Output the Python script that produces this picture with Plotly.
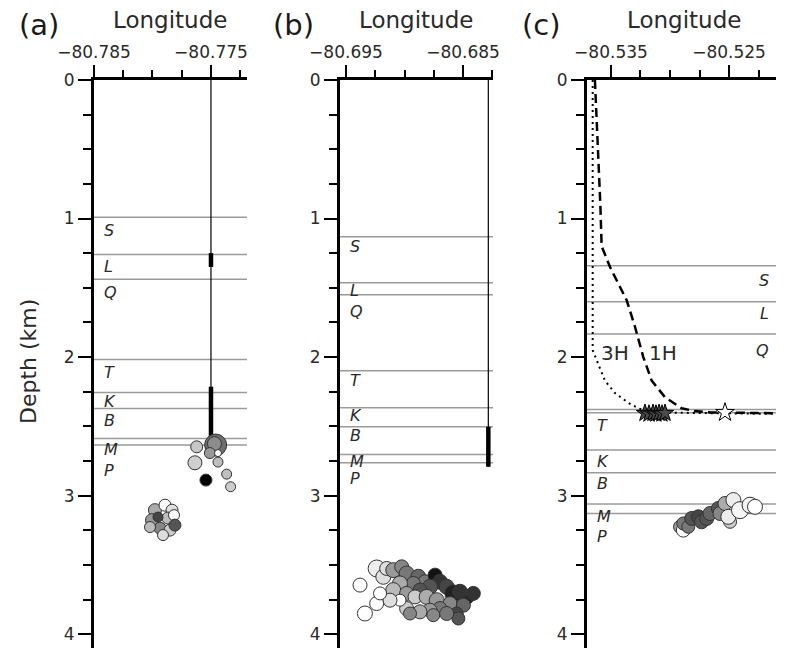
import plotly.graph_objects as go

# ---------------- data ----------------
FORMATIONS = ['S', 'L', 'Q', 'T', 'K', 'B', 'M', 'P']

# panel (a)
A_XRANGE = [-80.785, -80.77192]
A_XTICKS = [-80.785, -80.775]
A_TOPS = [0.991, 1.259, 1.439, 2.017, 2.255, 2.371, 2.587, 2.635]
A_LABEL_DEPTH = [1.083, 1.348, 1.536, 2.113, 2.318, 2.460, 2.667, 2.816]
A_WELL_LON = -80.775
A_WELL_DEPTH = [0.0, 2.62]
A_PERF = [(1.25, 1.35), (2.214, 2.60)]
A_EV_LON = [-80.77622, -80.77460, -80.77470, -80.77509, -80.77440, -80.77440, -80.77637,
            -80.77543, -80.77366, -80.77332,
            -80.77979, -80.77893, -80.77833, -80.78004, -80.77868, -80.77816,
            -80.77936, -80.77850, -80.77910, -80.78021, -80.77808, -80.77953]
A_EV_DEP = [2.648, 2.635, 2.625, 2.693, 2.693, 2.758, 2.763, 2.888, 2.845, 2.936,
            3.105, 3.069, 3.105, 3.177, 3.162, 3.141, 3.235, 3.249, 3.285, 3.227, 3.213, 3.155]
A_EV_TIME = [0.22, 0.57, 0.45, 0.40, 0.0, 0.26, 0.19, 1.0, 0.25, 0.20,
             0.33, 0.0, 0.13, 0.40, 0.26, 0.0, 0.47, 0.20, 0.13, 0.26, 0.67, 0.73]
A_EV_MAG = [1.2, 2.2, 1.4, 1.1, 0.7, 1.0, 1.4, 1.2, 1.0, 1.0,
            1.3, 1.2, 1.2, 1.3, 1.2, 1.1, 1.2, 1.2, 1.1, 1.1, 1.2, 1.0]

# panel (b)
B_XRANGE = [-80.69551, -80.68244]
B_XTICKS = [-80.695, -80.685]
B_TOPS = [1.131, 1.463, 1.550, 2.099, 2.366, 2.503, 2.703, 2.763]
B_LABEL_DEPTH = [1.203, 1.523, 1.673, 2.166, 2.424, 2.568, 2.756, 2.876]
B_WELL_LON = -80.68284
B_WELL_DEPTH = [0.0, 2.79]
B_PERF = [(2.503, 2.792)]
B_EV_LON = [-80.69238, -80.69181, -80.69152, -80.69096, -80.69024, -80.68982, -80.68882,
            -80.68825, -80.68739, -80.68697, -80.68640, -80.68583, -80.68469, -80.68526,
            -80.68782, -80.68925, -80.68868, -80.69039, -80.69096, -80.68982, -80.68910,
            -80.68811, -80.68725, -80.68611, -80.68497, -80.68554, -80.68540, -80.68697,
            -80.68782, -80.68868, -80.68982, -80.69039, -80.69124, -80.69238, -80.69380,
            -80.69209, -80.69338, -80.68953, -80.68754, -80.68640, -80.68412]
B_EV_DEP = [3.526, 3.586, 3.526, 3.538, 3.514, 3.562, 3.586, 3.622, 3.574, 3.622,
            3.658, 3.706, 3.731, 3.694, 3.658, 3.634, 3.682, 3.634, 3.682, 3.706,
            3.731, 3.731, 3.755, 3.779, 3.791, 3.851, 3.887, 3.815, 3.827, 3.839,
            3.815, 3.755, 3.755, 3.779, 3.646, 3.706, 3.851, 3.851, 3.863, 3.851, 3.706]
B_EV_TIME = [0.07, 0.13, 0.13, 0.40, 0.47, 0.53, 0.60, 0.53, 0.93, 0.80,
             0.73, 0.87, 0.87, 0.80, 0.67, 0.53, 0.67, 0.33, 0.27, 0.40,
             0.20, 0.33, 0.40, 0.47, 0.60, 0.73, 0.67, 0.53, 0.40, 0.33,
             0.20, 0.0, 0.13, 0.0, 0.0, 0.0, 0.0, 0.47, 0.47, 0.53, 0.80]
B_EV_MAG = [1.7, 1.5, 1.4, 1.5, 1.4, 1.5, 1.5, 1.4, 1.4, 1.5,
            1.5, 1.7, 1.5, 1.5, 1.5, 1.4, 1.4, 1.5, 1.5, 1.4,
            1.4, 1.5, 1.5, 1.4, 1.4, 1.3, 1.3, 1.4, 1.4, 1.4,
            1.4, 1.2, 1.4, 1.4, 1.4, 1.3, 1.5, 1.3, 1.3, 1.4, 1.4]

# panel (c)
C_XRANGE = [-80.53703, -80.52102]
C_XTICKS = [-80.535, -80.525]
C_TOPS = [1.341, 1.601, 1.834, 2.378, 2.402, 2.671, 2.835, 3.061, 3.129]
C_LABEL_DEPTH = [1.444, 1.685, 1.949, 2.491, 2.756, 2.912, 3.153, 3.292]
C_LABEL_RIGHT = [True, True, True, False, False, False, False, False]
W1H_LON = [-80.53636, -80.53620, -80.53605, -80.53590, -80.53579, -80.53508, -80.53367,
           -80.53297, -80.53226, -80.53155, -80.53042, -80.52901, -80.52788, -80.52650,
           -80.52102]
W1H_DEP = [0.0, 0.3, 0.6, 0.9, 1.20, 1.35, 1.59, 1.78, 2.00, 2.17, 2.29, 2.37, 2.39, 2.40, 2.405]
W3H_LON = [-80.53655, -80.53655, -80.53608, -80.53551, -80.53466, -80.53353, -80.53269,
           -80.53150, -80.52102]
W3H_DEP = [0.0, 1.95, 2.05, 2.17, 2.26, 2.33, 2.37, 2.40, 2.41]
WELL_NAMES = ['3H', '1H']
WELL_NAME_LON = [-80.53466, -80.53059]
WELL_NAME_DEP = [1.968, 1.968]
STAR_LON = [-80.53212, -80.53178, -80.53144, -80.53119, -80.53093, -80.53068, -80.53042]
STAR_DEP = [2.405, 2.41, 2.405, 2.41, 2.405, 2.41, 2.405]
STAR2_LON = [-80.52534]
STAR2_DEP = [2.40]
C_EV_LON = [-80.52915, -80.52887, -80.52887, -80.52845, -80.52816, -80.52760, -80.52732,
            -80.52689, -80.52661, -80.52590, -80.52576, -80.52534, -80.52491, -80.52506,
            -80.52463, -80.52407, -80.52322, -80.52280]
C_EV_DEP = [3.225, 3.249, 3.201, 3.225, 3.165, 3.153, 3.189, 3.165, 3.129, 3.093,
            3.129, 3.057, 3.189, 3.153, 3.032, 3.105, 3.069, 3.081]
C_EV_TIME = [0.40, 0.0, 0.53, 0.53, 0.67, 0.73, 0.67, 0.67, 0.60, 0.67,
             0.47, 0.33, 0.20, 0.07, 0.07, 0.04, 0.04, 0.0]
C_EV_MAG = [1.3, 1.4, 1.3, 1.3, 1.4, 1.4, 1.4, 1.4, 1.4, 1.4,
            1.4, 1.4, 1.3, 1.5, 1.5, 1.7, 1.6, 1.5]

# ---------------- style ----------------
W, H = 789, 649
FONT = 'DejaVu Sans'
TXT = '#2a2a2a'
SIZE_PER_MAG = 10
GRAYS = [[0, '#ffffff'], [1, '#000000']]

fig = go.Figure()

panels = [
    dict(tag='a', x='x', y='y', xr=A_XRANGE, xt=A_XTICKS, dom=[94, 247], tops=A_TOPS,
         ld=A_LABEL_DEPTH, right=[False] * 8, lon=A_EV_LON, dep=A_EV_DEP, t=A_EV_TIME, m=A_EV_MAG,
         tagx=39, titx=170),
    dict(tag='b', x='x2', y='y2', xr=B_XRANGE, xt=B_XTICKS, dom=[340, 493], tops=B_TOPS,
         ld=B_LABEL_DEPTH, right=[False] * 8, lon=B_EV_LON, dep=B_EV_DEP, t=B_EV_TIME, m=B_EV_MAG,
         tagx=293, titx=416),
    dict(tag='c', x='x3', y='y3', xr=C_XRANGE, xt=C_XTICKS, dom=[587, 776], tops=C_TOPS,
         ld=C_LABEL_DEPTH, right=C_LABEL_RIGHT, lon=C_EV_LON, dep=C_EV_DEP, t=C_EV_TIME, m=C_EV_MAG,
         tagx=541, titx=684),
]

shapes = []
annotations = []
for i, p in enumerate(panels):
    sfx = '' if i == 0 else str(i + 1)
    xa, ya = 'xaxis' + sfx, 'yaxis' + sfx
    fig.update_layout(**{
        xa: dict(domain=[p['dom'][0] / W, p['dom'][1] / W], range=p['xr'], side='top',
                 anchor=p['y'], automargin=False, showgrid=False, zeroline=False,
                 showline=True, linewidth=3,
                 linecolor='black', ticks='outside', ticklen=12, tickwidth=1.5, tickcolor='black',
                 tickmode='array', tickvals=p['xt'],
                 ticktext=['\u2212' + f'{abs(v):.3f}' for v in p['xt']],
                 tickfont=dict(family=FONT, size=17, color=TXT),
                 minor=dict(tick0=p['xt'][0], dtick=0.0025, ticks='outside', ticklen=7,
                            tickwidth=1.5, tickcolor='black', showgrid=False)),
        ya: dict(domain=[1 / H, 1 - 80 / H], range=[4.1, 0], anchor=p['x'], automargin=False,
                 showgrid=False,
                 zeroline=False, showline=True, linewidth=3, linecolor='black',
                 ticks='outside', ticklen=13, tickwidth=1.5, tickcolor='black',
                 tickmode='array', tickvals=[0, 1, 2, 3, 4],
                 tickfont=dict(family=FONT, size=17, color=TXT),
                 minor=dict(dtick=0.25, ticks='outside', ticklen=8, tickwidth=1.5,
                            tickcolor='black', showgrid=False)),
    })
    for d in p['tops']:
        shapes.append(dict(type='line', xref=p['x'] + ' domain', yref=p['y'], x0=0, x1=1,
                           y0=d, y1=d, line=dict(color='#9a9a9a', width=1.5), layer='below'))
    for name, d, r in zip(FORMATIONS, p['ld'], p['right']):
        annotations.append(dict(text='<i>' + name + '</i>', xref=p['x'] + ' domain', yref=p['y'],
                                x=1 if r else 0, xshift=-5 if r else 8, y=d,
                                xanchor='right' if r else 'left', yanchor='middle',
                                showarrow=False, font=dict(family=FONT, size=16, color=TXT)))
    annotations.append(dict(text='Longitude', xref='paper', yref='paper',
                            x=p['titx'] / W, y=1 - 20 / H, xanchor='center', yanchor='middle',
                            showarrow=False, font=dict(family=FONT, size=23, color=TXT)))
    annotations.append(dict(text='(' + p['tag'] + ')', xref='paper', yref='paper',
                            x=p['tagx'] / W, y=1 - 25 / H, xanchor='center',
                            yanchor='middle', showarrow=False,
                            font=dict(family=FONT, size=29, color='#1a1a1a')))

annotations.append(dict(text='Depth (km)', xref='paper', yref='paper', x=28 / W, y=1 - 362 / H,
                        textangle=-90, xanchor='center', yanchor='middle', showarrow=False,
                        font=dict(family=FONT, size=22, color=TXT)))

# wells (a), (b)
for wl, wd, perf, xx, yy in [(A_WELL_LON, A_WELL_DEPTH, A_PERF, 'x', 'y'),
                             (B_WELL_LON, B_WELL_DEPTH, B_PERF, 'x2', 'y2')]:
    fig.add_trace(go.Scatter(x=[wl, wl], y=wd, mode='lines', xaxis=xx, yaxis=yy,
                             line=dict(color='black', width=1.2), showlegend=False))
    for d0, d1 in perf:
        fig.add_trace(go.Scatter(x=[wl, wl], y=[d0, d1], mode='lines', xaxis=xx, yaxis=yy,
                                 line=dict(color='black', width=4.5), showlegend=False))

# wells (c)
fig.add_trace(go.Scatter(x=W3H_LON, y=W3H_DEP, mode='lines', xaxis='x3', yaxis='y3',
                         line=dict(color='black', width=2, dash='2px,4px'), showlegend=False))
fig.add_trace(go.Scatter(x=W1H_LON, y=W1H_DEP, mode='lines', xaxis='x3', yaxis='y3',
                         line=dict(color='black', width=2.5, dash='9px,5px'), showlegend=False))
for nm, lo, de in zip(WELL_NAMES, WELL_NAME_LON, WELL_NAME_DEP):
    annotations.append(dict(text=nm, xref='x3', yref='y3', x=lo, y=de, showarrow=False,
                            font=dict(family=FONT, size=20, color=TXT)))
fig.add_trace(go.Scatter(x=STAR_LON, y=STAR_DEP, mode='markers', xaxis='x3', yaxis='y3',
                         marker=dict(symbol='star', size=13, color='#4a4a4a',
                                     line=dict(color='black', width=1)), showlegend=False))
fig.add_trace(go.Scatter(x=STAR2_LON, y=STAR2_DEP, mode='markers', xaxis='x3', yaxis='y3',
                         marker=dict(symbol='star', size=14, color='white',
                                     line=dict(color='black', width=1)), showlegend=False))

# events
for p in panels:
    fig.add_trace(go.Scatter(
        x=p['lon'], y=p['dep'], mode='markers', xaxis=p['x'], yaxis=p['y'], showlegend=False,
        marker=dict(size=[m * SIZE_PER_MAG for m in p['m']], color=p['t'], colorscale=GRAYS,
                    cmin=0, cmax=1, opacity=1, line=dict(color='#333333', width=1))))

fig.update_layout(width=W, height=H, margin=dict(l=0, r=0, t=0, b=0, pad=0, autoexpand=False),
                  paper_bgcolor='white', plot_bgcolor='white',
                  shapes=shapes, annotations=annotations, showlegend=False)

fig.write_html('out.html', config={'displayModeBar': False},
               post_script="document.body.style.margin='0px';")
